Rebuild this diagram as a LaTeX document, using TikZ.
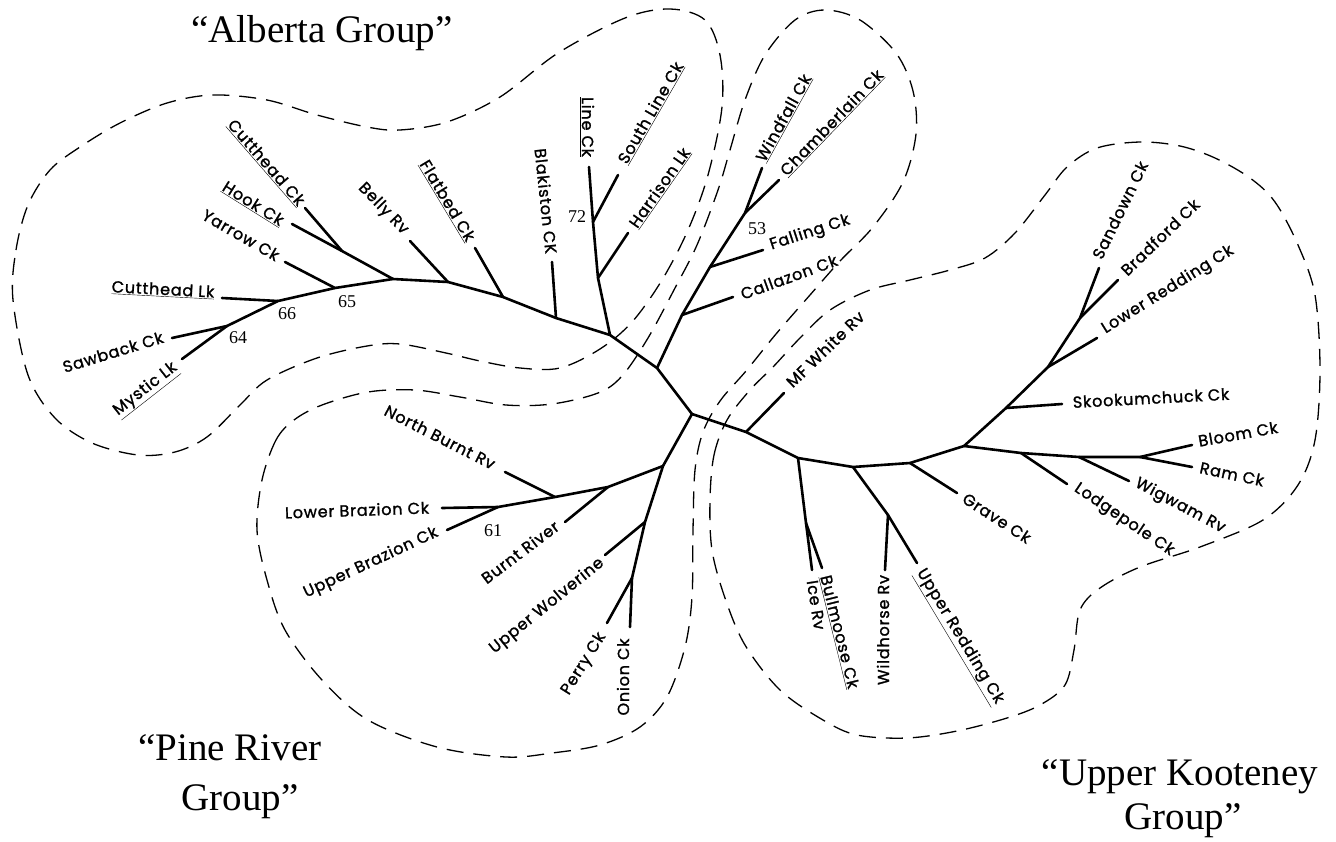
\documentclass[tikz,border=0pt]{standalone}
\usepackage{fontspec}
\setmainfont{Liberation Serif}
\newfontfamily\lblfam{Poppins}[LetterSpace=5, FakeBold=1.4]
\begin{document}
\begin{tikzpicture}[x=1pt,y=-1pt,
  br/.style={line width=2.6pt, line cap=round, line join=round},
  lbl/.style={font=\lblfam\fontsize{16}{18}\selectfont, inner sep=0pt},
  num/.style={font=\fontsize{18}{20}\selectfont, inner sep=0pt},
  grp/.style={font=\fontsize{39}{42}\selectfont, inner sep=0pt, anchor=base},
  bnd/.style={line width=1.3pt, dash pattern=on 17pt off 10pt}]
\useasboundingbox (0,0) rectangle (1336,841);
\fill[white] (0,0) rectangle (1336,841);

% ---------- coordinates: Alberta ----------
\coordinate (n64) at (227,326);
\coordinate (n66) at (278,301);
\coordinate (n65) at (335,288);
\coordinate (nA1) at (393,279);
\coordinate (nHC) at (342,251);
\coordinate (nBe) at (448,282);
\coordinate (nFl) at (503,297);
\coordinate (nBl) at (556,318);
\coordinate (nAJ) at (610,335);
\coordinate (nHa) at (598,278);
\coordinate (n72) at (593,222);
\coordinate (tMy) at (182,359);
\coordinate (tSa) at (172,338);
\coordinate (tCL) at (222,298);
\coordinate (tYa) at (285,262);
\coordinate (tHo) at (292,224);
\coordinate (tCC) at (305,208);
\coordinate (tBe) at (410,241);
\coordinate (tFl) at (475,248);
\coordinate (tBl) at (552,262);
\coordinate (tLi) at (589,167);
\coordinate (tSL) at (618,175);
\coordinate (tHa) at (628,233);
% ---------- Windfall clade ----------
\coordinate (nWB) at (657,368);
\coordinate (nCa) at (682,315);
\coordinate (nFa) at (710,267);
\coordinate (n53) at (745,213);
\coordinate (tWi) at (762,168);
\coordinate (tCh) at (779,180);
\coordinate (tFa) at (763,250);
\coordinate (tCa) at (733,297);
% ---------- centre ----------
\coordinate (nC) at (692,414);
% ---------- Upper Kooteney ----------
\coordinate (nMF) at (746,432);
\coordinate (tMF) at (784,393);
\coordinate (nBu) at (798,458);
\coordinate (nBI) at (806,523);
\coordinate (tIc) at (812,570);
\coordinate (tBu) at (822,568);
\coordinate (nWh) at (853,467);
\coordinate (nWR) at (888,515);
\coordinate (tWh) at (885,570);
\coordinate (tUR) at (917,563);
\coordinate (nGr) at (910,463);
\coordinate (tGr) at (957,493);
\coordinate (nUK) at (964,446);
\coordinate (nSk) at (1006,408);
\coordinate (tSk) at (1062,404);
\coordinate (nLR) at (1048,367);
\coordinate (tLR) at (1097,338);
\coordinate (nSB) at (1080,318);
\coordinate (tSd) at (1099,268);
\coordinate (tBr) at (1118,280);
\coordinate (nLo) at (1021,453);
\coordinate (tLo) at (1067,484);
\coordinate (nWi) at (1079,457);
\coordinate (tWg) at (1129,481);
\coordinate (nBR) at (1140,457);
\coordinate (tBlo) at (1192,445);
\coordinate (tRa) at (1192,467);
% ---------- Pine River ----------
\coordinate (nP) at (663,466);
\coordinate (nBu2) at (608,487);
\coordinate (nNB) at (555,497);
\coordinate (n61) at (498,507);
\coordinate (tLB) at (442,508);
\coordinate (tUB) at (447,530);
\coordinate (tNB) at (505,472);
\coordinate (tBR) at (565,522);
\coordinate (nUW) at (645,522);
\coordinate (nPO) at (632,578);
\coordinate (tUW) at (605,555);
\coordinate (tPe) at (607,623);
\coordinate (tOn) at (630,627);

% ---------- group boundaries ----------
\draw[bnd] plot[smooth cycle, tension=0.55] coordinates {
 (13,300) (16,250) (28,205) (50,170) (80,147) (120,123) (167,103) (213,95)
 (267,100) (317,115) (367,127) (400,130) (447,122) (500,97) (558,53) (625,18)
 (670,9) (705,20) (720,55) (722,107) (708,175) (688,230) (662,280) (632,322)
 (600,349) (560,368) (520,368) (480,361) (446,353) (400,344) (367,346)
 (317,358) (267,380) (240,405) (207,437) (175,452) (138,455) (92,443)
 (55,418) (28,375)};
\draw[bnd] plot[smooth cycle, tension=0.55] coordinates {
 (262,480) (276,440) (294,420) (322,405) (368,392) (415,390) (460,397)
 (506,405) (552,404) (598,393) (622,376) (648,338) (675,288) (697,245)
 (718,190) (730,150) (745,100) (765,55) (795,20) (825,10) (860,20) (896,53)
 (913,91) (916,134) (903,182) (873,227) (840,261) (810,295) (776,334)
 (746,371) (720,401) (703,432) (695,470) (693,530) (692,597) (685,647)
 (667,697) (640,727) (600,745) (552,753) (506,757) (437,747) (368,720)
 (322,680) (285,630) (267,580) (257,530)};
\draw[bnd] plot[smooth cycle, tension=0.55] coordinates {
 (710,500) (714,455) (727,420) (750,390) (773,367) (800,338) (830,310)
 (870,290) (910,280) (950,270) (985,258) (1015,233) (1045,195) (1067,167)
 (1097,148) (1140,142) (1180,146) (1215,158) (1250,178) (1275,202)
 (1298,245) (1315,295) (1320,370) (1315,440) (1298,485) (1263,520)
 (1200,547) (1140,567) (1100,588) (1080,610) (1074,650) (1065,685)
 (1040,705) (1007,718) (957,731) (907,738) (857,735) (823,720) (780,690)
 (745,645) (725,598) (712,550)};

% ---------- branches ----------
\draw[br] (tMy) -- (n64) -- (n66) -- (n65) -- (nA1) -- (nBe) -- (nFl) -- (nBl) -- (nAJ) -- (nWB) -- (nC);
\draw[br] (tSa) -- (n64);
\draw[br] (tCL) -- (n66);
\draw[br] (tYa) -- (n65);
\draw[br] (tHo) -- (nHC) -- (nA1);
\draw[br] (tCC) -- (nHC);
\draw[br] (tBe) -- (nBe);
\draw[br] (tFl) -- (nFl);
\draw[br] (tBl) -- (nBl);
\draw[br] (tLi) -- (n72) -- (nHa) -- (nAJ);
\draw[br] (tSL) -- (n72);
\draw[br] (tHa) -- (nHa);
\draw[br] (nWB) -- (nCa) -- (nFa) -- (n53) -- (tWi);
\draw[br] (n53) -- (tCh);
\draw[br] (nFa) -- (tFa);
\draw[br] (nCa) -- (tCa);
\draw[br] (nC) -- (nMF) -- (nBu) -- (nWh) -- (nGr) -- (nUK) -- (nSk) -- (nLR) -- (nSB) -- (tSd);
\draw[br] (nSB) -- (tBr);
\draw[br] (nLR) -- (tLR);
\draw[br] (nSk) -- (tSk);
\draw[br] (nUK) -- (nLo) -- (nWi) -- (nBR) -- (tBlo);
\draw[br] (nBR) -- (tRa);
\draw[br] (nWi) -- (tWg);
\draw[br] (nLo) -- (tLo);
\draw[br] (nGr) -- (tGr);
\draw[br] (nWh) -- (nWR) -- (tUR);
\draw[br] (nWR) -- (tWh);
\draw[br] (nBu) -- (nBI) -- (tIc);
\draw[br] (nBI) -- (tBu);
\draw[br] (nMF) -- (tMF);
\draw[br] (nC) -- (nP) -- (nUW) -- (nPO) -- (tOn);
\draw[br] (nPO) -- (tPe);
\draw[br] (nUW) -- (tUW);
\draw[br] (nP) -- (nBu2) -- (nNB) -- (n61) -- (tLB);
\draw[br] (n61) -- (tUB);
\draw[br] (nNB) -- (tNB);
\draw[br] (nBu2) -- (tBR);

% ---------- labels: Alberta ----------
\node[lbl, rotate=38] (lMy) at (146,390) {\underline{Mystic Lk}};
\node[lbl, rotate=17] (lSa) at (113,352) {Sawback Ck};
\node[lbl, rotate=-3] (lCL) at (163,290) {\underline{Cutthead Lk}};
\node[lbl, rotate=-30] (lYa) at (241,235) {Yarrow Ck};
\node[lbl, rotate=-32] (lHo) at (253,204) {\underline{Hook Ck}};
\node[lbl, rotate=-49] (lCC) at (266,163) {\underline{Cutthead Ck}};
\node[lbl, rotate=-46] (lBe) at (383,209) {Belly Rv};
\node[lbl, rotate=-59] (lFl) at (447,201) {\underline{Flatbed Ck}};
\node[lbl, rotate=-84] (lBl) at (546,201) {Blakiston CK};
\node[lbl, rotate=-90] (lLi) at (587,127) {\underline{Line Ck}};
\node[lbl, rotate=60] (lSL) at (651,113) {\underline{South Line Ck}};
\node[lbl, rotate=55] (lHa) at (660,188) {\underline{Harrison Lk}};
\node[num] (b72) at (577,217) {72};
\node[num] (b65) at (347,302) {65};
\node[num] (b66) at (287,314) {66};
\node[num] (b64) at (238,338) {64};
% ---------- labels: Windfall ----------
\node[lbl, rotate=61] (lWi) at (784,118) {\underline{Windfall Ck}};
\node[lbl, rotate=46] (lCh) at (832,123) {\underline{Chamberlain Ck}};
\node[lbl, rotate=18] (lFa) at (810,233) {Falling Ck};
\node[lbl, rotate=20] (lCa) at (789,277) {Callazon Ck};
\node[num] (b53) at (757,229) {53};
% ---------- labels: Upper Kooteney ----------
\node[lbl, rotate=44] (lMF) at (825,349) {MF White Rv};
\node[lbl, rotate=64] (lSd) at (1120,210) {Sandown Ck};
\node[lbl, rotate=44] (lBr) at (1160,237) {Bradford Ck};
\node[lbl, rotate=32] (lLR) at (1168,290) {Lower Redding Ck};
\node[lbl, rotate=3] (lSk) at (1151,398) {Skookumchuck Ck};
\node[lbl, rotate=10] (lBlo) at (1238,434) {Bloom Ck};
\node[lbl, rotate=-12] (lRa) at (1232,474) {Ram Ck};
\node[lbl, rotate=-28] (lWg) at (1180,506) {Wigwam Rv};
\node[lbl, rotate=-34] (lLo) at (1124,520) {Lodgepole Ck};
\node[lbl, rotate=-33] (lGr) at (997,518) {Grave Ck};
\node[lbl, rotate=-59] (lUR) at (959,637) {\underline{Upper Redding Ck}};
\node[lbl, rotate=90] (lWh) at (883,630) {Wildhorse Rv};
\node[lbl, rotate=-76] (lBu) at (839,632) {\underline{Bullmoose Ck}};
\node[lbl, rotate=-81] (lIc) at (816,605) {Ice Rv};
% ---------- labels: Pine River ----------
\node[lbl, rotate=-27] (lNB) at (440,437) {North Burnt Rv};
\node[lbl, rotate=2] (lLB) at (357,510) {Lower Brazion Ck};
\node[lbl, rotate=25] (lUB) at (371,563) {Upper Brazion Ck};
\node[num] (b61) at (493,531) {61};
\node[lbl, rotate=37] (lBR) at (520,552) {Burnt River};
\node[lbl, rotate=39] (lUW) at (547,606) {Upper Wolverine};
\node[lbl, rotate=58] (lPe) at (584,664) {Perry Ck};
\node[lbl, rotate=90] (lOn) at (623,677) {Onion Ck};

% ---------- group titles ----------
\node[grp] (gA) at (322,42) {“Alberta Group”};
\node[grp] (gP1) at (230,760) {“Pine River};
\node[grp] (gP2) at (240,810) {Group”};
\node[grp] (gU1) at (1180,785) {“Upper Kooteney};
\node[grp] (gU2) at (1183,829) {Group”};
\end{tikzpicture}
\end{document}
